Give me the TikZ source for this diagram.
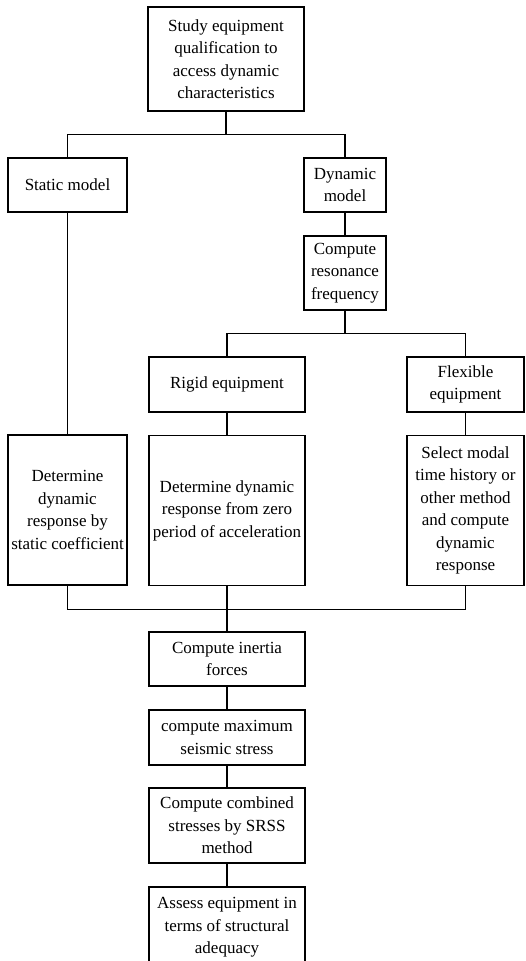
\documentclass[tikz,border=0pt]{standalone}
\usepackage{fontspec}
\setmainfont{Liberation Serif}
\tikzset{
    box/.style={draw, line width=1.2pt, align=center, inner sep=2pt,
        font=\fontsize{17}{22.5}\selectfont},
    mainbox/.style={box, minimum width=156pt},
    sidebox/.style={box, minimum width=119pt},
    dynbox/.style={box, minimum width=82pt},
    flexbox/.style={box, minimum width=117pt},
    link/.style={line width=1.2pt}
}
\begin{document}
\begin{tikzpicture}[x=1pt, y=-1pt]
        \useasboundingbox (0,0) rectangle (525,961);
        \clip (0,0) rectangle (525,961);
        \node[mainbox, minimum height=104pt] (study) at (226,59) {Study equipment\\qualification to\\access dynamic\\characteristics};
        \node[sidebox, minimum height=54pt] (static) at (67.5,185) {Static model};
        \node[dynbox, minimum height=54pt] (dynamic) at (345,185) {Dynamic\\model};
        \node[dynbox, minimum height=74pt] (resonance) at (345,273) {Compute\\resonance\\frequency};
        \node[mainbox, minimum height=55pt] (rigid) at (227,384.5) {Rigid equipment};
        \node[flexbox, minimum height=55pt] (flexible) at (465.5,384.5) {Flexible\\equipment};
        \node[sidebox, minimum height=150pt] (bystatic) at (67.5,510) {Determine\\dynamic\\response by\\static coefficient};
        \node[mainbox, minimum height=150pt] (byzero) at (227,510.5) {Determine dynamic\\response from zero\\period of acceleration};
        \node[flexbox, minimum height=150pt] (bymodal) at (465.5,510.5) {Select modal\\time history or\\other method\\and compute\\dynamic\\response};
        \node[mainbox, minimum height=54pt] (inertia) at (227,659) {Compute inertia\\forces};
        \node[mainbox, minimum height=55pt] (maxstress) at (227,737.5) {compute maximum\\seismic stress};
        \node[mainbox, minimum height=75pt] (srss) at (227,825.5) {Compute combined\\stresses by SRSS\\method};
        \node[mainbox, minimum height=81pt] (assess) at (227,927.5) {Assess equipment in\\terms of structural\\adequacy};
        \draw[link] (study.south) -- ++(0,23) coordinate (fork1);
        \draw[link] (static.north) |- (fork1) -| (dynamic.north);
        \draw[link] (dynamic) -- (resonance);
        \draw[link] (resonance.south) -- ++(0,23) coordinate (fork2);
        \draw[link] (rigid.north) |- (fork2) -| (flexible.north);
        \draw[link] (static) -- (bystatic);
        \draw[link] (rigid) -- (byzero);
        \draw[link] (flexible) -- (bymodal);
        \draw[link] (byzero.south) -- ++(0,23) coordinate (join);
        \draw[link] (bystatic.south) |- (join) -| (bymodal.south);
        \draw[link] (join) -- (inertia.north);
        \draw[link] (inertia) -- (maxstress);
        \draw[link] (maxstress) -- (srss);
        \draw[link] (srss) -- (assess);
    \end{tikzpicture}
\end{document}
